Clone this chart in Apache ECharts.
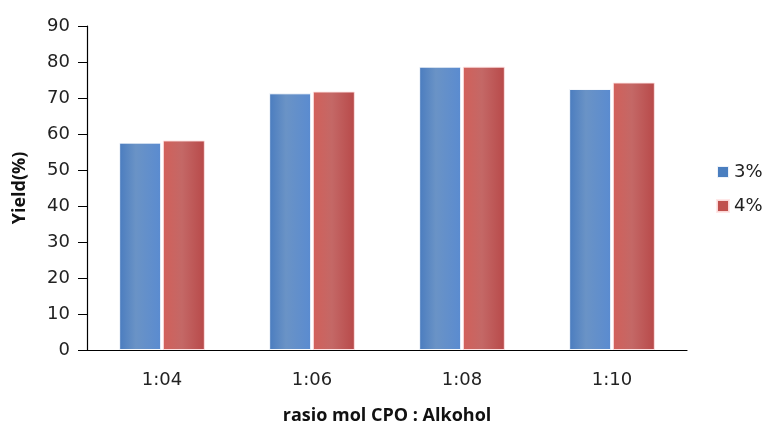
<!DOCTYPE html>
<html>
<head>
<meta charset="utf-8">
<script src="https://cdn.jsdelivr.net/npm/echarts@6/dist/echarts.min.js"></script>
<style>html,body{margin:0;padding:0;background:#fff}#c{width:764px;height:423px}</style>
</head>
<body>
<div id="c"></div>
<script>
var categories = ['1:04', '1:06', '1:08', '1:10'];
var series3 = [57.6, 71.3, 78.7, 72.5];
var series4 = [58.2, 71.8, 78.7, 74.3];
var seriesNames = ['3%', '4%'];

var blueGrad = new echarts.graphic.LinearGradient(0, 0, 1, 0, [
  {offset: 0, color: '#4a7cbf'}, {offset: 0.4, color: '#6a93c6'}, {offset: 1, color: '#5a8bd0'}
]);
var redGrad = new echarts.graphic.LinearGradient(0, 0, 1, 0, [
  {offset: 0, color: '#d2605a'}, {offset: 0.45, color: '#c46866'}, {offset: 1, color: '#b84949'}
]);

var chart = echarts.init(document.getElementById('c'));
chart.setOption({
  animation: false,
  grid: {left: 87, right: 77, top: 26, bottom: 73, containLabel: false, outerBoundsMode: 'none'},
  legend: {
    orient: 'vertical', left: 711, top: 158, itemWidth: 12, itemHeight: 12, itemGap: 16,
    icon: 'rect',
    textStyle: {fontFamily: 'DejaVu Sans', fontSize: 18, color: '#222'},
    data: [{name: seriesNames[0], itemStyle: {color: '#4a7ebf'}}, {name: seriesNames[1], itemStyle: {color: '#c0504d'}}]
  },
  xAxis: {
    type: 'category', data: categories,
    name: 'rasio mol CPO : Alkohol', nameLocation: 'middle', nameGap: 57,
    nameTextStyle: {fontFamily: 'Open Sans', fontWeight: 'bold', fontSize: 18, color: '#111'},
    axisLine: {lineStyle: {color: '#000', width: 1.2}},
    axisTick: {show: false},
    axisLabel: {fontFamily: 'DejaVu Sans', fontSize: 18, color: '#222', margin: 21}
  },
  yAxis: {
    type: 'value', min: 0, max: 90, interval: 10,
    name: 'Yield(%)', nameLocation: 'middle', nameGap: 58, nameRotate: 90,
    nameTextStyle: {fontFamily: 'Open Sans', fontWeight: 'bold', fontSize: 18, color: '#111'},
    axisLine: {show: true, lineStyle: {color: '#000', width: 1.2}},
    axisTick: {show: true, inside: false, length: 9, lineStyle: {color: '#000'}},
    axisLabel: {fontFamily: 'DejaVu Sans', fontSize: 18, color: '#222', margin: 17},
    splitLine: {show: false}
  },
  series: [
    {name: seriesNames[0], type: 'bar', data: series3, barWidth: 42, barGap: '4%',
     itemStyle: {color: blueGrad, borderColor: 'rgba(255,255,255,0.9)', borderWidth: 1}},
    {name: seriesNames[1], type: 'bar', data: series4, barWidth: 42, barGap: '4%',
     itemStyle: {color: redGrad, borderColor: 'rgba(255,230,230,0.9)', borderWidth: 1}}
  ]
});
</script>
</body>
</html>
